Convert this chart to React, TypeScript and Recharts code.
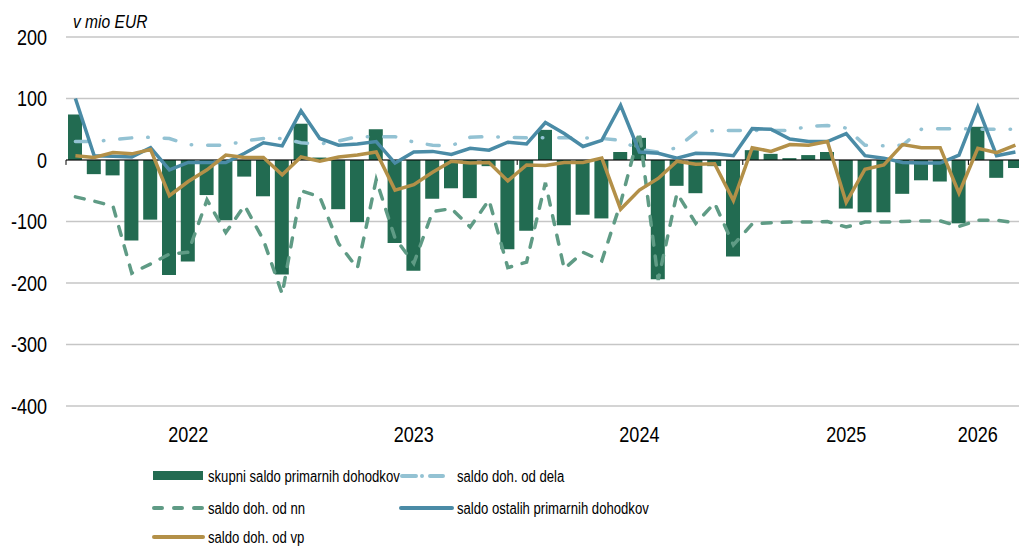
import React from 'react';
import {
  ComposedChart,
  Bar,
  Line,
  XAxis,
  YAxis,
  CartesianGrid,
  ReferenceLine,
} from 'recharts';

// monthly categories, jan 2022 .. mar 2026
const months: string[] = [];
for (let y = 2022; y <= 2026; y++) {
  for (let m = 1; m <= 12; m++) {
    if (months.length < 51) months.push(`${m}/${y}`);
  }
}

// year labels sit on these category positions
const yearLabelAt = [6, 18, 30, 41, 48];
const yearLabels = ['2022', '2023', '2024', '2025', '2026'];
// small separator ticks on the zero line
const sepTicks = [0, 12, 24, 36, 48];
const yTicks = [-400, -300, -200, -100, 0, 100, 200];

const skupni = [
  74, -23, -25, -131, -97, -187, -165, -57, -98, -27, -59, -186,
  59, 4, -80, -101, 50, -135, -180, -63, -46, -62, -10, -145,
  -115, 49, -106, -89, -95, 13, 36, -194, -42, -54, -10, -157,
  16, 10, 3, 8, 13, -79, -85, -85, -55, -33, -35, -103,
  54, -29, -13,
];
const dela = [
  30, 30, 33, 36, 37, 35, 25, 24, 24, 31, 35, 35,
  28, 26, 31, 38, 38, 38, 29, 24, 23, 37, 38, 37,
  36, 36, 36, 36, 35, 32, 17, 13, 20, 45, 48, 48,
  48, 48, 48, 55, 56, 52, 24, 23, 24, 50, 51, 51,
  50, 50, 50,
];
const nn = [
  -60, -67, -75, -184, -169, -153, -150, -65, -118, -74, -130, -218,
  -50, -60, -136, -176, -32, -127, -168, -84, -79, -109, -65, -175,
  -166, -37, -177, -150, -164, -70, 46, -195, -54, -103, -70, -138,
  -104, -102, -101, -101, -100, -109, -101, -101, -100, -99, -99, -108,
  -98, -98, -102,
];
const ostali = [
  100, 7, 6, 5, 20, -16, -4, -4, -4, 11, 28, 23,
  80, 35, 24, 26, 30, -5, 13, 14, 9, 19, 16, 29,
  26, 61, 43, 22, 32, 89, 13, 11, 3, 11, 10, 7,
  51, 50, 34, 30, 30, 43, 7, 3, -4, -5, -5, 8,
  86, 7, 13,
];
const vp = [
  7, 4, 12, 10, 17, -58, -35, -16, 8, 4, 4, -24,
  5, -2, 5, 8, 13, -49, -40, -20, -2, -5, -4, -34,
  -8, -9, -4, -4, 3, -80, -49, -30, -2, -7, -6, -66,
  20, 14, 25, 24, 30, -69, -15, -8, 25, 20, 20, -54,
  19, 12, 24,
];

const data = months.map((m, i) => ({
  m,
  idx: i + 0.5,
  skupni: skupni[i],
  dela: dela[i],
  nn: nn[i],
  ostali: ostali[i],
  vp: vp[i],
}));

// no narrow face installed, so squeeze the regular one
const FONT = "'Liberation Sans', Arial, sans-serif";
const SQUEEZE = 0.82;
const C_BAR = '#226b51';
const C_NN = '#5f9b85';
const C_DELA = '#93c2d3';
const C_OST = '#4a8ba6';
const C_VP = '#b39048';

function NarrowText({ x, y, size, anchor = 'start', italic = false, children }: any) {
  return (
    <text
      transform={`translate(${x},${y}) scale(${SQUEEZE},1)`}
      x={0}
      y={0}
      dy="0.35em"
      textAnchor={anchor}
      fontFamily={FONT}
      fontSize={size}
      fontStyle={italic ? 'italic' : 'normal'}
      fill="#000"
    >
      {children}
    </text>
  );
}

function YearTick({ x, y, index }: any) {
  const k = yearLabelAt.indexOf(index);
  if (k < 0) return null;
  return (
    <NarrowText x={x} y={y + 28} size={22} anchor="middle">
      {yearLabels[k]}
    </NarrowText>
  );
}

function ValueTick({ x, y, payload }: any) {
  return (
    <NarrowText x={x} y={y} size={22} anchor="end">
      {payload.value}
    </NarrowText>
  );
}

export default function App() {
  return (
    <div
      style={{
        position: 'fixed',
        left: 0,
        top: 0,
        width: 1019,
        height: 546,
        overflow: 'hidden',
        background: '#fff',
      }}
    >
      <ComposedChart
        width={1040}
        height={546}
        data={data}
        margin={{ top: 37, right: 15.2, bottom: 110, left: 8 }}
        barSize={14}
        style={{ position: 'absolute', left: 0, top: 0 }}
      >
        <CartesianGrid vertical={false} stroke="#c6c6c6" strokeWidth={1.3} />
        <XAxis
          dataKey="m"
          interval={0}
          height={30}
          axisLine={false}
          tickLine={false}
          tickSize={0}
          tickMargin={0}
          tick={<YearTick />}
        />
        <XAxis xAxisId="sep" type="number" dataKey="idx" domain={[0, 51]} hide />
        <YAxis
          domain={[-400, 200]}
          ticks={yTicks}
          width={58}
          axisLine={false}
          tickLine={false}
          tickSize={0}
          tickMargin={19}
          tick={<ValueTick />}
        />
        <Bar dataKey="skupni" fill={C_BAR} isAnimationActive={false} />
        <ReferenceLine y={0} stroke="#000" strokeWidth={1.2} />
        {sepTicks.map((s) => (
          <ReferenceLine
            key={s}
            xAxisId="sep"
            segment={[{ x: s, y: 0 }, { x: s, y: -8 }]}
            stroke="#000"
            strokeWidth={1}
          />
        ))}
        <Line
          dataKey="nn"
          stroke={C_NN}
          strokeWidth={3.5}
          strokeDasharray="9 11"
          strokeLinecap="round"
          dot={false}
          isAnimationActive={false}
        />
        <Line
          dataKey="dela"
          stroke={C_DELA}
          strokeWidth={3.5}
          strokeDasharray="12 16 0.5 16"
          strokeLinecap="round"
          dot={false}
          isAnimationActive={false}
        />
        <Line dataKey="ostali" stroke={C_OST} strokeWidth={3.5} dot={false} isAnimationActive={false} />
        <Line dataKey="vp" stroke={C_VP} strokeWidth={3.5} dot={false} isAnimationActive={false} />
      </ComposedChart>

      <svg
        width={1019}
        height={546}
        style={{ position: 'absolute', left: 0, top: 0, pointerEvents: 'none' }}
      >
        <NarrowText x={73} y={21} size={19} italic>
          v mio EUR
        </NarrowText>

        <rect x={153} y={471} width={50} height={9} fill={C_BAR} />
        <NarrowText x={208} y={476} size={16}>skupni saldo primarnih dohodkov</NarrowText>

        <line x1={402} y1={476} x2={443} y2={476} stroke={C_DELA} strokeWidth={4} strokeDasharray="14 6 0 8" strokeLinecap="round" />
        <NarrowText x={457} y={476} size={16}>saldo doh. od dela</NarrowText>

        <line x1={154} y1={508} x2={203} y2={508} stroke={C_NN} strokeWidth={4} strokeDasharray="8 12" strokeLinecap="round" />
        <NarrowText x={208} y={508} size={16}>saldo doh. od nn</NarrowText>

        <line x1={401} y1={508} x2={452} y2={508} stroke={C_OST} strokeWidth={4} strokeLinecap="round" />
        <NarrowText x={457} y={508} size={16}>saldo ostalih primarnih dohodkov</NarrowText>

        <line x1={154} y1={537} x2={203} y2={537} stroke={C_VP} strokeWidth={4} strokeLinecap="round" />
        <NarrowText x={208} y={537} size={16}>saldo doh. od vp</NarrowText>
      </svg>
    </div>
  );
}
